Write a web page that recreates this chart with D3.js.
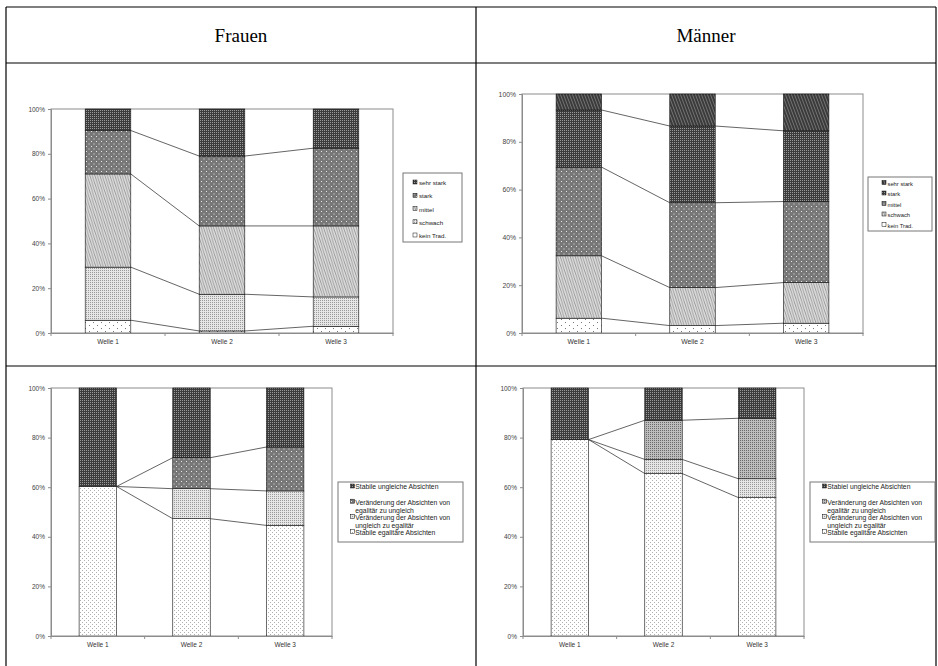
<!DOCTYPE html>
<html>
<head>
<meta charset="utf-8">
<script src="https://cdn.jsdelivr.net/npm/d3@7"></script>
<style>
  body { margin: 0; background: #fff; }
  svg { display: block; }
</style>
</head>
<body>
<script>
// categories
const waves = ["Welle 1", "Welle 2", "Welle 3"];

// Traditionalismus (bottom to top)
const tradLabels = ["kein Trad.", "schwach", "mittel", "stark", "sehr stark"];
// Frauen, share per wave in %
const fKeinTrad  = [5.7, 0.9, 3.0];
const fSchwach   = [23.7, 16.4, 13.1];
const fMittel    = [41.6, 30.5, 31.7];
const fStark     = [19.4, 31.2, 34.7];
const fSehrStark = [9.6, 21.0, 17.5];
// Männer
const mKeinTrad  = [6.2, 3.1, 4.1];
const mSchwach   = [26.1, 15.9, 17.0];
const mMittel    = [37.1, 35.5, 33.9];
const mStark     = [23.9, 32.1, 29.6];
const mSehrStark = [6.7, 13.4, 15.4];

// Absichten (bottom to top)
const absFrauenLabels = ["Stabile egalitäre Absichten", "Veränderung der Absichten von ungleich zu egalitär",
  "Veränderung der Absichten von egalitär zu ungleich", "Stabile ungleiche Absichten"];
const absMaennerLabels = ["Stabile egalitäre Absichten", "Veränderung der Absichten von ungleich zu egalitär",
  "Veränderung der Absichten von egalitär zu ungleich", "Stabiel ungleiche Absichten"];
const fStabilEgal   = [60.3, 47.3, 44.6];
const fUngleichEgal = [0, 12.1, 13.9];
const fEgalUngleich = [0, 12.5, 17.7];
const fStabilUngl   = [39.7, 28.1, 23.8];
const mStabilEgal   = [79.2, 65.5, 55.8];
const mUngleichEgal = [0, 5.7, 7.6];
const mEgalUngleich = [0, 15.8, 24.4];
const mStabilUngl   = [20.8, 13.0, 12.2];

const yTicks = [0, 0.2, 0.4, 0.6, 0.8, 1];

const W = 938, H = 666;
const svg = d3.select("body").append("svg").attr("width", W).attr("height", H);

// ---- fill patterns (imitating the old Excel b/w hatches)
const defs = svg.append("defs");
function pattern(id, w, h, bg, draw) {
  const p = defs.append("pattern").attr("id", id)
    .attr("patternUnits", "userSpaceOnUse").attr("width", w).attr("height", h);
  p.append("rect").attr("width", w).attr("height", h).attr("fill", bg);
  draw(p);
}
pattern("darkCheck", 2, 2, "#3c3c3c", p => {
  p.append("rect").attr("x", 0).attr("y", 0).attr("width", 1).attr("height", 1).attr("fill", "#9a9a9a");
});
pattern("dotsGray", 5, 5, "#777", p => {
  p.append("rect").attr("x", 1).attr("y", 1).attr("width", 1).attr("height", 1).attr("fill", "#e8e8e8");
  p.append("rect").attr("x", 3.5).attr("y", 3.5).attr("width", 1).attr("height", 1).attr("fill", "#e8e8e8");
});
pattern("stripes", 2.5, 8, "#dcdcdc", p => {
  p.append("path").attr("d", "M0,0L2.5,8M-2.5,0L0,8M2.5,0L5,8").attr("stroke", "#8a8a8a").attr("stroke-width", 0.8);
});
pattern("darkStripes", 3, 8, "#3a3a3a", p => {
  p.append("path").attr("d", "M0,0L3,8M-3,0L0,8M3,0L6,8").attr("stroke", "#8c8c8c").attr("stroke-width", 0.7);
});
pattern("lightCheck", 2, 2, "#e6e6e6", p => {
  p.append("rect").attr("x", 0).attr("y", 0).attr("width", 1).attr("height", 1).attr("fill", "#999");
});
pattern("midCheck", 2, 2, "#bdbdbd", p => {
  p.append("rect").attr("x", 0).attr("y", 0).attr("width", 1).attr("height", 1).attr("fill", "#6a6a6a");
});
pattern("sparseDots", 8, 6, "#fff", p => {
  p.append("rect").attr("x", 1).attr("y", 1).attr("width", 1).attr("height", 1).attr("fill", "#777");
  p.append("rect").attr("x", 5).attr("y", 4).attr("width", 1).attr("height", 1).attr("fill", "#777");
});
pattern("fineDots", 4, 4, "#fff", p => {
  p.append("rect").attr("x", 0).attr("y", 0).attr("width", 1).attr("height", 1).attr("fill", "#b0b0b0");
  p.append("rect").attr("x", 2).attr("y", 2).attr("width", 1).attr("height", 1).attr("fill", "#b0b0b0");
});

// ---- table frame
const grid = svg.append("g").attr("stroke", "#000").attr("stroke-width", 1.2).attr("fill", "none");
grid.append("line").attr("x1", 6).attr("x2", 936).attr("y1", 7).attr("y2", 7);
grid.append("line").attr("x1", 6).attr("x2", 936).attr("y1", 63).attr("y2", 63);
grid.append("line").attr("x1", 6).attr("x2", 936).attr("y1", 366).attr("y2", 366);
grid.append("line").attr("x1", 6).attr("x2", 6).attr("y1", 7).attr("y2", 666);
grid.append("line").attr("x1", 476).attr("x2", 476).attr("y1", 7).attr("y2", 666);
grid.append("line").attr("x1", 936).attr("x2", 936).attr("y1", 7).attr("y2", 666);

svg.append("g").attr("font-family", "'Liberation Serif', 'Times New Roman', serif")
  .attr("font-size", 19).attr("text-anchor", "middle")
  .selectAll("text").data([["Frauen", 241], ["Männer", 706]]).join("text")
  .attr("x", d => d[1]).attr("y", 42).text(d => d[0]);

// ---- one stacked 100% chart with series lines
function drawChart(cfg) {
  const g = svg.append("g");
  const {x: px, y: py, w: pw, h: ph} = cfg.plot;
  const rows = waves.map((wv, i) => {
    const r = {wave: wv};
    cfg.labels.forEach((l, k) => r[l] = cfg.values[k][i]);
    return r;
  });
  const stacked = d3.stack().keys(cfg.labels).offset(d3.stackOffsetExpand)(rows);

  const x = d3.scaleBand().domain(waves).range([px, px + pw]).paddingInner(0.6).paddingOuter(0.3);
  const y = d3.scaleLinear().domain([0, 1]).range([py + ph, py]);

  // plot area frame
  g.append("rect").attr("x", px).attr("y", py).attr("width", pw).attr("height", ph)
    .attr("fill", "#fff").attr("stroke", "#8c8c8c").attr("stroke-width", 1);

  // bars
  g.append("g").selectAll("g").data(stacked).join("g")
    .attr("fill", (d, k) => `url(#${cfg.patterns[k]})`)
    .selectAll("rect").data(d => d).join("rect")
    .attr("x", d => x(d.data.wave)).attr("width", x.bandwidth())
    .attr("y", d => y(d[1])).attr("height", d => y(d[0]) - y(d[1]))
    .attr("stroke", "#111").attr("stroke-width", 0.6);

  // series lines between the bars
  const lines = g.append("g").attr("stroke", "#222").attr("stroke-width", 0.7);
  stacked.slice(0, -1).forEach(s => {
    for (let i = 0; i < waves.length - 1; i++) {
      lines.append("line")
        .attr("x1", x(waves[i]) + x.bandwidth()).attr("y1", y(s[i][1]))
        .attr("x2", x(waves[i + 1])).attr("y2", y(s[i + 1][1]));
    }
  });

  // y axis
  const ya = g.append("g").attr("transform", `translate(${px},0)`)
    .call(d3.axisLeft(y).tickValues(yTicks).tickSize(3).tickPadding(3).tickFormat(d3.format(".0%")));
  ya.select(".domain").attr("stroke", "#8c8c8c");
  ya.selectAll(".tick line").attr("stroke", "#8c8c8c");
  ya.selectAll("text").attr("font-family", "'Liberation Sans', Arial, sans-serif")
    .attr("font-size", cfg.tickFont).attr("fill", "#444");

  // x axis: labels, ticks on band boundaries
  const xa = g.append("g").attr("transform", `translate(0,${py + ph})`)
    .call(d3.axisBottom(x).tickSize(0).tickPadding(6));
  xa.select(".domain").attr("stroke", "#8c8c8c");
  xa.selectAll("text").attr("font-family", "'Liberation Sans', Arial, sans-serif")
    .attr("font-size", cfg.tickFont).attr("fill", "#333");
  g.append("g").attr("stroke", "#8c8c8c").selectAll("line")
    .data(d3.range(waves.length + 1)).join("line")
    .attr("x1", k => px + k * x.step()).attr("x2", k => px + k * x.step())
    .attr("y1", py + ph).attr("y2", py + ph + 3);

  // legend (top series first)
  const L = cfg.legend;
  const lg = g.append("g");
  lg.append("rect").attr("x", L.x).attr("y", L.y).attr("width", L.w).attr("height", L.h)
    .attr("fill", "#fff").attr("stroke", "#777").attr("stroke-width", 1);
  const order = d3.range(cfg.labels.length).reverse();
  order.forEach((k, j) => {
    const cy = L.y + L.first + j * L.step;
    lg.append("rect").attr("x", L.mx).attr("y", cy - L.ms / 2 - 1).attr("width", L.ms).attr("height", L.ms)
      .attr("fill", `url(#${cfg.patterns[k]})`).attr("stroke", "#111").attr("stroke-width", 0.5);
    const t = lg.append("text").attr("x", L.tx).attr("y", cy + L.font * 0.35)
      .attr("font-family", "'Liberation Sans', Arial, sans-serif").attr("font-size", L.font).attr("fill", "#222");
    // simple word wrap
    const words = cfg.labels[k].split(" ");
    let line = [];
    let span = t.append("tspan").attr("x", L.tx).attr("dy", 0);
    words.forEach(wd => {
      line.push(wd);
      span.text(line.join(" "));
      if (L.wrap && span.node().getComputedTextLength() > L.wrap && line.length > 1) {
        line.pop();
        span.text(line.join(" "));
        line = [wd];
        span = t.append("tspan").attr("x", L.tx).attr("dy", L.lh).text(wd);
      }
    });
  });
}

drawChart({
  labels: tradLabels,
  values: [fKeinTrad, fSchwach, fMittel, fStark, fSehrStark],
  patterns: ["sparseDots", "lightCheck", "stripes", "dotsGray", "darkCheck"],
  plot: {x: 51, y: 109, w: 342, h: 224},
  tickFont: 6.5,
  legend: {x: 403, y: 173, w: 59, h: 69, first: 10, step: 13.25, mx: 413, tx: 419, ms: 4, font: 6.2}
});
drawChart({
  labels: tradLabels,
  values: [mKeinTrad, mSchwach, mMittel, mStark, mSehrStark],
  patterns: ["sparseDots", "stripes", "dotsGray", "darkCheck", "darkStripes"],
  plot: {x: 522, y: 94, w: 341, h: 239},
  tickFont: 6.8,
  legend: {x: 868, y: 177, w: 64, h: 54, first: 6.5, step: 10.5, mx: 882, tx: 887.5, ms: 4, font: 5.8}
});
drawChart({
  labels: absFrauenLabels,
  values: [fStabilEgal, fUngleichEgal, fEgalUngleich, fStabilUngl],
  patterns: ["fineDots", "lightCheck", "dotsGray", "darkCheck"],
  plot: {x: 51, y: 388, w: 281, h: 248},
  tickFont: 6.5,
  legend: {x: 338, y: 482, w: 125, h: 60, first: 5, step: 15.2, lh: 8, wrap: 102, mx: 350.5, tx: 355.3, ms: 4, font: 6.8}
});
drawChart({
  labels: absMaennerLabels,
  values: [mStabilEgal, mUngleichEgal, mEgalUngleich, mStabilUngl],
  patterns: ["fineDots", "lightCheck", "midCheck", "darkCheck"],
  plot: {x: 523, y: 388, w: 281, h: 248},
  tickFont: 6.5,
  legend: {x: 810, y: 482, w: 125, h: 60, first: 5, step: 15.2, lh: 8, wrap: 102, mx: 822.5, tx: 827.3, ms: 4, font: 6.8}
});
</script>
</body>
</html>
